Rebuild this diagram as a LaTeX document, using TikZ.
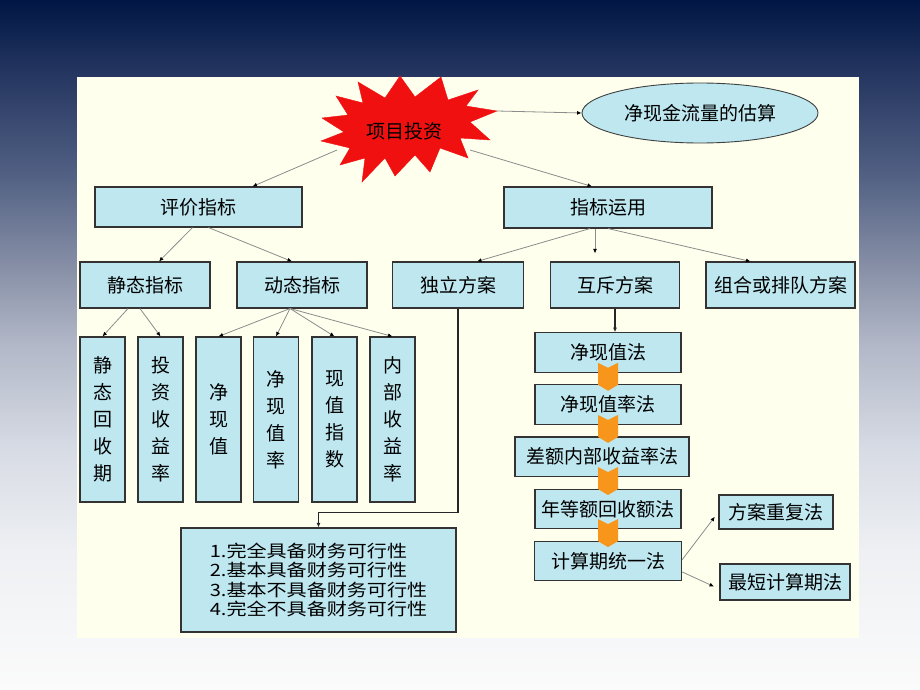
\documentclass[tikz,border=0pt]{standalone}
\usepackage{fontspec}
\usepackage{xcolor}
\usepackage{tikz}
\usetikzlibrary{positioning}
\usetikzlibrary{arrows.meta,shapes.geometric}
\newfontfamily\cjk{Noto Sans CJK SC}
\newfontfamily\cjkwide[FakeStretch=1.18]{Noto Sans CJK SC}
\definecolor{boxblue}{RGB}{190,231,240}
\definecolor{cream}{RGB}{255,255,238}
\definecolor{linegray}{RGB}{140,140,140}
\definecolor{chev}{RGB}{248,150,28}
\definecolor{burst}{RGB}{240,16,16}
\definecolor{bgA}{RGB}{0,22,68}
\definecolor{bgB}{RGB}{35,52,95}
\definecolor{bgC}{RGB}{80,95,130}
\definecolor{bgD}{RGB}{140,148,170}
\definecolor{bgE}{RGB}{178,184,200}
\definecolor{bgF}{RGB}{215,219,228}
\definecolor{bgG}{RGB}{238,240,243}
\definecolor{bgH}{RGB}{251,251,251}
\pgfdeclareverticalshading{slidebg}{100bp}{color(0bp)=(bgH); color(25bp)=(bgH);
  color(35bp)=(bgG); color(42.5bp)=(bgF); color(50bp)=(bgE); color(55bp)=(bgD);
  color(62.5bp)=(bgC); color(70bp)=(bgB); color(75bp)=(bgA); color(100bp)=(bgA)}

\begin{document}
\begin{tikzpicture}[x=1pt,y=-1pt,node distance=11.5pt,
    box/.style={draw=black!80,line width=1.1pt,fill=boxblue,inner sep=0pt,
      font=\cjk\fontsize{19}{22}\selectfont},
    vbox/.style={box,minimum width=45pt,minimum height=165pt,align=center,
      font=\cjk\fontsize{19}{27}\selectfont},
    mbox/.style={box,minimum width=146pt,minimum height=39.5pt},
    link/.style={draw=linegray,line width=.8pt,-{Latex[length=4.5pt,width=4pt,color=black]}},
    darklink/.style={draw=black!85,line width=1.1pt,-{Latex[length=4.5pt,width=4pt]}}]
   \useasboundingbox (0,0) rectangle (920,690);
   \shade[shading=slidebg] (0,0) rectangle (920,690);
   \fill[cream] (77,77) rectangle (859,638);

   % the burst and its tips
   \filldraw[burst,line width=.4pt] (441,77) -- (448,100) -- (478,90) -- (466,106) -- (497,111)
      -- (470,122) -- (490,140) -- (460,138) -- (468,158) -- (440,148) -- (430,172)
      -- (415,155) -- (395,176) -- (385,158) -- (362,182) -- (365,158) -- (340,165)
      -- (350,148) -- (321,141) -- (344,132) -- (322,118) -- (348,115) -- (336,96)
      -- (363,103) -- (358,82) -- (385,98) -- (400,76) -- (415,97) -- cycle;
   \coordinate (tipE) at (497,111);
   \coordinate (tipSW) at (337,150);
   \coordinate (tipSE) at (470,150);
   \node (Inv) at (404,131) [font=\cjk\fontsize{19}{22}\selectfont] {项目投资};

   \node (Est) at (700,113) [ellipse,draw=black!75,line width=.9pt,fill=boxblue,
      minimum width=236pt,minimum height=60pt,font=\cjk\fontsize{19}{22}\selectfont] {净现金流量的估算};

   \node (Eval) at (198.5,207) [box,minimum width=207pt,minimum height=40pt] {评价指标};
   \node (Use)  at (608,207.5) [box,minimum width=208pt,minimum height=41pt] {指标运用};

   \node (Sta)  at (145,285)   [box,minimum width=130pt,minimum height=46pt] {静态指标};
   \node (Dyn)  at (302,285)   [box,minimum width=130pt,minimum height=46pt] {动态指标};
   \node (Ind)  at (458,285)   [box,minimum width=131pt,minimum height=46pt] {独立方案};
   \node (Mut)  at (615,285)   [box,minimum width=129pt,minimum height=46pt] {互斥方案};
   \node (Comb) at (780.5,285) [box,minimum width=149pt,minimum height=46pt] {组合或排队方案};

   \node (S1) at (102.5,419.5) [vbox] {静\\态\\回\\收\\期};
   \node (S2) at (160.5,419.5) [vbox] {投\\资\\收\\益\\率};
   \node (D1) at (218.5,419.5) [vbox] {净\\现\\值};
   \node (D2) at (276,419.5)   [vbox] {净\\现\\值\\率};
   \node (D3) at (334.5,419.5) [vbox] {现\\值\\指\\数};
   \node (D4) at (392.5,419.5) [vbox] {内\\部\\收\\益\\率};

   \node (Feas) at (318.5,580) [box,minimum width=275pt,minimum height=104pt,align=left,
      font=\cjkwide\fontsize{17}{19.4}\selectfont]
      {1.完全具备财务可行性\\2.基本具备财务可行性\\3.基本不具备财务可行性\\4.完全不具备财务可行性};

   \node (M1) at (608,352.5) [mbox] {净现值法};
   \node (M2) [mbox,below=of M1] {净现值率法};
   \node (M3) [mbox,minimum width=174pt,below=of M2,xshift=-6pt] {差额内部收益率法};
   \node (M4) [mbox,below=of M2 |- M3.south] {年等额回收额法};
   \node (M5) [mbox,minimum width=147pt,below=of M4] {计算期统一法};

   \node (R1) at (776,512) [box,minimum width=114pt,minimum height=34pt] {方案重复法};
   \node (R2) at (785,582) [box,minimum width=130pt,minimum height=36pt] {最短计算期法};

   \draw[link] (tipE) -- (Est.west);
   \draw[link] (tipSW) -- ([xshift=54pt]Eval.north);
   \draw[link] (tipSE) -- ([xshift=-16pt]Use.north);

   \draw[link] ([xshift=-6pt]Eval.south) -- ([xshift=14pt]Sta.north);
   \draw[link] ([xshift=10pt]Eval.south) -- ([xshift=-10pt]Dyn.north);
   \draw[link] ([xshift=-18pt]Use.south) -- ([xshift=19pt]Ind.north);
   \draw[link,shorten >=8pt] ([xshift=-13pt]Use.south) -- ([xshift=-20pt]Mut.north);
   \draw[link] (Use.south) -- ([xshift=-30pt]Comb.north);

   \draw[link] ([xshift=-17pt]Sta.south) -- (S1.north);
   \draw[link] ([xshift=-5pt]Sta.south) -- (S2.north);
   \foreach \d in {D1,D2,D3,D4}
      \draw[link] ([xshift=-12pt]Dyn.south) -- (\d.north);

   \draw[darklink] (Ind.south) -- ++(0,204) -| (Feas.north);
   \draw[darklink] (Mut.south) -- (Mut.south |- M1.north);

   \draw[link,shorten >=6pt] ([yshift=1pt]M5.east) -- (R1.west);
   \draw[link,shorten >=6pt] ([yshift=-11pt]M5.east) -- ([yshift=-7pt]R2.west);

   \foreach \a in {M1,M2,M3,M4}
      \fill[chev,shift={(M1.south |- \a.south)}] (-10,-10) -- (0,-5) -- (10,-10) -- (10,12)
         -- (0,18) -- (-10,12) -- cycle;
\end{tikzpicture}
\end{document}
